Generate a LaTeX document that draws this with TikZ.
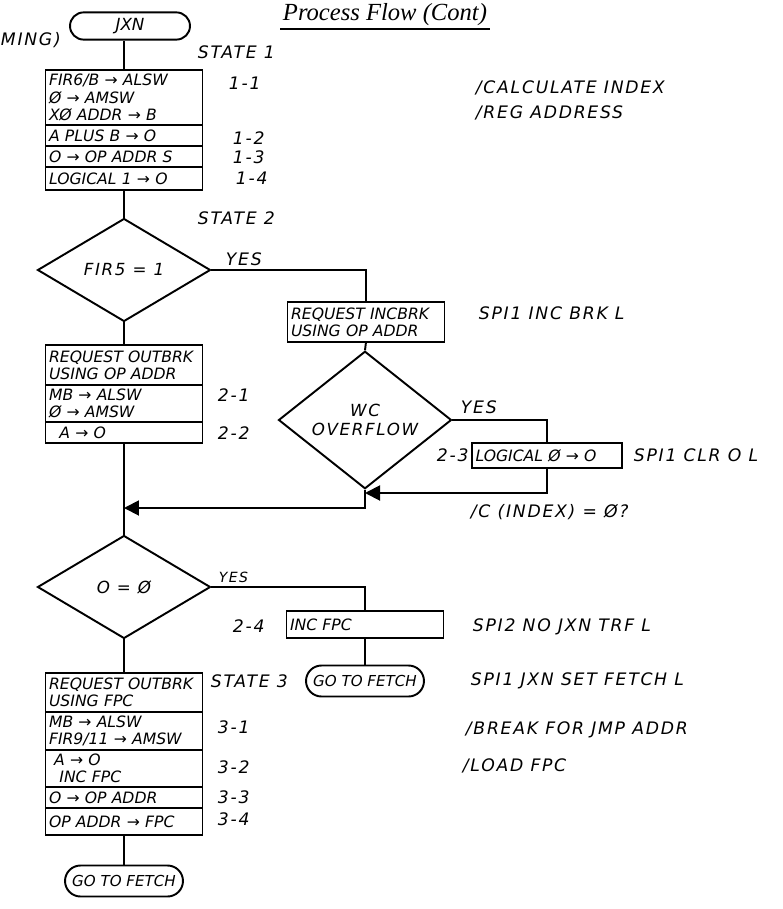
\documentclass[tikz,border=0pt]{standalone}
\usepackage{fontspec}
\newfontfamily\hand{DejaVu Sans}[LetterSpace=10.0]
\newfontfamily\handbox{DejaVu Sans}
\newfontfamily\titlehand{Liberation Serif}
\usetikzlibrary{arrows.meta, positioning, shapes.geometric, shapes.misc}

\begin{document}
\begin{tikzpicture}[
  x=0.02cm, y=-0.02cm, line width=1.1pt,
  row/.style={draw, minimum width=3.14cm, text width=3.0cm, align=left, inner xsep=2pt, inner ysep=1pt, outer sep=0pt, font=\handbox\itshape\fontsize{8.9}{9.8}\selectfont},
  cond/.style={draw, diamond, minimum width=3.46cm, minimum height=2.06cm, inner sep=0pt, align=center, font=\hand\itshape\fontsize{9.5}{10.5}\selectfont},
  term/.style={draw, rounded rectangle, minimum width=2.36cm, minimum height=0.62cm, inner xsep=0pt, font=\handbox\itshape\fontsize{8.6}{9}\selectfont},
  note/.style={anchor=west, inner sep=0pt, font=\hand\itshape\fontsize{9.8}{11}\selectfont},
  flow/.style={-{Triangle[length=0.3cm, width=0.3cm]}},
]
  \useasboundingbox (0,0) rectangle (783,909);

  % heading and cut-off margin text
  \node[font=\titlehand\itshape\fontsize{14}{15}\selectfont, inner sep=1pt] (title) at (385,15) {Process Flow (Cont)};
  \draw[line width=0.8pt] (title.south west) -- (title.south east);
  \node[note] (ming) at (0,40) {MING)};

  % state 1
  \node[term, minimum width=2.4cm, minimum height=0.52cm, font=\handbox\itshape\fontsize{9.5}{10}\selectfont] (jxn) at (130,26) {JXN};
  \node[row, minimum height=1.1cm, anchor=north] (st1a) at (124,70) {FIR6/B → ALSW\\Ø → AMSW\\XØ ADDR → B};
  \node[row, minimum height=0.42cm, below=0pt of st1a] (st1b) {A PLUS B → O};
  \node[row, minimum height=0.42cm, below=0pt of st1b] (st1c) {O → OP ADDR S};
  \node[row, minimum height=0.46cm, below=0pt of st1c] (st1d) {LOGICAL 1 → O};

  \node[note] (lbl1) at (197,52) {STATE 1};
  \node[note] (lbl11) at (228,83) {1-1};
  \node[note] (lbl12) at (232,138) {1-2};
  \node[note] (lbl13) at (232,157) {1-3};
  \node[note] (lbl14) at (235,178) {1-4};
  \node[note] (cmt1) at (475,88) {/CALCULATE INDEX};
  \node[note] (cmt2) at (475,113) {/REG ADDRESS};

  % state 2
  \node[note] (lbl2) at (197,218) {STATE 2};
  \node[cond] (fir5) at (124,270) {FIR5 = 1};
  \node[note] (yes1) at (225,259) {YES};
  \node[row, minimum height=0.8cm] (incbrk) at (366,322) {REQUEST INCBRK\\USING OP ADDR};
  \node[note] (cmt3) at (478,313) {SPI1 INC BRK L};
  \node[cond] (wcov) at (365,420) {WC\\OVERFLOW};
  \node[note] (yes2) at (460,407) {YES};
  \node[row, minimum width=3cm, text width=2.86cm, minimum height=0.5cm] (clr0) at (547,455.5) {LOGICAL Ø → O};
  \node[note] (lbl23) at (436,455) {2-3};
  \node[note] (cmt4) at (633,455) {SPI1 CLR O L};
  \node[note] (cmt5) at (470,512) {/C (INDEX) = Ø?};

  \node[row, minimum height=0.8cm, anchor=north] (st2a) at (124,345) {REQUEST OUTBRK\\USING OP ADDR};
  \node[row, minimum height=0.74cm, below=0pt of st2a] (st2b) {MB → ALSW\\Ø → AMSW};
  \node[row, minimum height=0.42cm, below=0pt of st2b] (st2c) {\ \ A → O};
  \node[note] (lbl21) at (217,395) {2-1};
  \node[note] (lbl22) at (217,433) {2-2};

  \coordinate (j1) at (124,508);
  \coordinate (j2) at (365,493);

  \node[cond] (o0) at (124,587) {O = Ø};
  \node[note, font=\hand\itshape\fontsize{8}{9}\selectfont] (yes3) at (218,577) {YES};
  \node[row, minimum height=0.54cm] (incfpc) at (365,624.5) {INC FPC};
  \node[note] (lbl24) at (232,626) {2-4};
  \node[note] (cmt6) at (472,627) {SPI2 NO JXN TRF L};
  \node[term] (fetch2) at (365,681) {GO TO FETCH};
  \node[note] (cmt7) at (470,681) {SPI1 JXN SET FETCH L};

  % state 3
  \node[note] (lbl3) at (210,681) {STATE 3};
  \node[row, minimum height=0.78cm, anchor=north] (st3a) at (124,673) {REQUEST OUTBRK\\USING FPC};
  \node[row, minimum height=0.76cm, below=0pt of st3a] (st3b) {MB → ALSW\\FIR9/11 → AMSW};
  \node[row, minimum height=0.74cm, below=0pt of st3b] (st3c) {\ A → O\\\ \ INC FPC};
  \node[row, minimum height=0.42cm, below=0pt of st3c] (st3d) {O → OP ADDR};
  \node[row, minimum height=0.54cm, below=0pt of st3d] (st3e) {OP ADDR → FPC};
  \node[note] (lbl31) at (217,727) {3-1};
  \node[note] (lbl32) at (217,767) {3-2};
  \node[note] (lbl33) at (217,797) {3-3};
  \node[note] (lbl34) at (217,819) {3-4};
  \node[note] (cmt8) at (465,730) {/BREAK FOR JMP ADDR};
  \node[note] (cmt9) at (462,766) {/LOAD FPC};
  \node[term] (fetch1) at (124,881) {GO TO FETCH};

  % connectors
  \draw (st1a.north) -- (st1a.north |- jxn.south);
  \draw (st1d.south) -- (fir5.north);
  \draw (fir5.south) -- (st2a.north);
  \draw (fir5.east) -| (incbrk.north);
  \draw (incbrk.south) -- (wcov.north);
  \draw (wcov.east) -| (clr0.north);
  \draw[flow] (clr0.south) |- (j2);
  \draw[flow] (wcov.south) |- (j1);
  \draw (st2c.south) -- (o0.north);
  \draw (o0.east) -| (incfpc.north);
  \draw (incfpc.south) -- (fetch2.north);
  \draw (o0.south) -- (st3a.north);
  \draw (st3e.south) -- (fetch1.north);
\end{tikzpicture}
\end{document}
